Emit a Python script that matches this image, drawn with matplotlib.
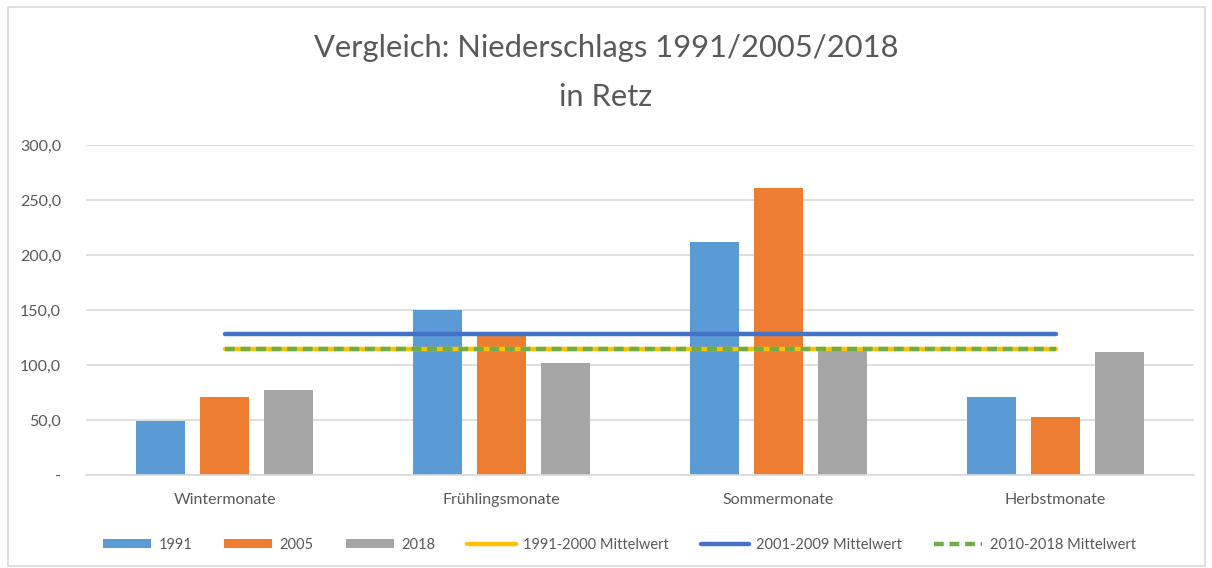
import matplotlib
matplotlib.use("Agg")
import matplotlib.pyplot as plt
from matplotlib.patches import Rectangle
import numpy as np

plt.rcParams['font.family'] = ['Lato', 'DejaVu Sans']

categories = ["Wintermonate", "Frühlingsmonate", "Sommermonate", "Herbstmonate"]
series_names = ["1991", "2005", "2018"]
values_1991 = [49, 150, 212, 71]
values_2005 = [71, 129, 261, 53]
values_2018 = [77, 102, 114, 112]
mean_1991_2000 = [115, 115, 115, 115]
mean_2001_2009 = [128, 128, 128, 128]
mean_2010_2018 = [115, 115, 115, 115]
yticks = [0, 50, 100, 150, 200, 250, 300]
ytick_labels = ["-", "50,0", "100,0", "150,0", "200,0", "250,0", "300,0"]

W, H = 1212, 568
fig = plt.figure(figsize=(W / 100, H / 100), dpi=100)
fig.patch.set_facecolor("white")

ax = fig.add_axes([86 / W, 1 - 475 / H, (1194 - 86) / W, (475 - 145) / H])
x = np.arange(len(categories))
bw = 0.18
off = 0.231
txt = "#595959"
ax.bar(x - off, values_1991, bw, color="#5B9BD5", label=series_names[0], zorder=2)
ax.bar(x, values_2005, bw, color="#ED7D31", label=series_names[1], zorder=2)
ax.bar(x + off, values_2018, bw, color="#A5A5A5", label=series_names[2], zorder=2)
ax.plot(x, mean_1991_2000, color="#FFC000", lw=3.2, label="1991-2000 Mittelwert", zorder=3, solid_capstyle="round")
ax.plot(x, mean_2001_2009, color="#4472C4", lw=3.2, label="2001-2009 Mittelwert", zorder=3, solid_capstyle="round")
ax.plot(x, mean_2010_2018, color="#70AD47", lw=3.2, ls=(0, (2.2, 1.3)), label="2010-2018 Mittelwert", zorder=4)

ax.set_xlim(-0.5, 3.5)
ax.set_ylim(0, 300)
ax.set_yticks(yticks)
ax.set_yticklabels(ytick_labels)
ax.set_xticks(x)
ax.set_xticklabels(categories)
ax.tick_params(axis="both", length=0, colors=txt, labelsize=11.5)
ax.tick_params(axis="y", pad=18)
ax.tick_params(axis="x", pad=13)
ax.yaxis.grid(True, color="#D9D9D9", lw=1.2, zorder=0)
ax.set_axisbelow(True)
for s in ["top", "right", "left"]:
    ax.spines[s].set_visible(False)
ax.spines["bottom"].set_color("#D9D9D9")
ax.spines["bottom"].set_linewidth(1.2)

fig.text(0.5, 1 - 48 / H, "Vergleich: Niederschlags 1991/2005/2018", ha="center", va="center",
         fontsize=22.2, color=txt)
fig.text(0.5, 1 - 97 / H, "in Retz", ha="center", va="center", fontsize=22.2, color=txt)

handles, labels = ax.get_legend_handles_labels()
hl = dict(zip(labels, handles))
names = ["1991", "2005", "2018", "1991-2000 Mittelwert", "2001-2009 Mittelwert", "2010-2018 Mittelwert"]
leg = fig.legend([hl[n] for n in names], names, loc="center", bbox_to_anchor=(0.511, 1 - 545 / H),
                 ncol=6, frameon=False, fontsize=10.5, handlelength=3.3, handleheight=0.6,
                 columnspacing=2.2, handletextpad=0.5)
for t in leg.get_texts():
    t.set_color(txt)

fig.patches.append(Rectangle((8 / W, 1 - 566 / H), (1205 - 8) / W, (566 - 7) / H,
                             transform=fig.transFigure, fill=False, edgecolor="#D9D9D9", lw=1.2))

fig.savefig("out.png", dpi=100)
